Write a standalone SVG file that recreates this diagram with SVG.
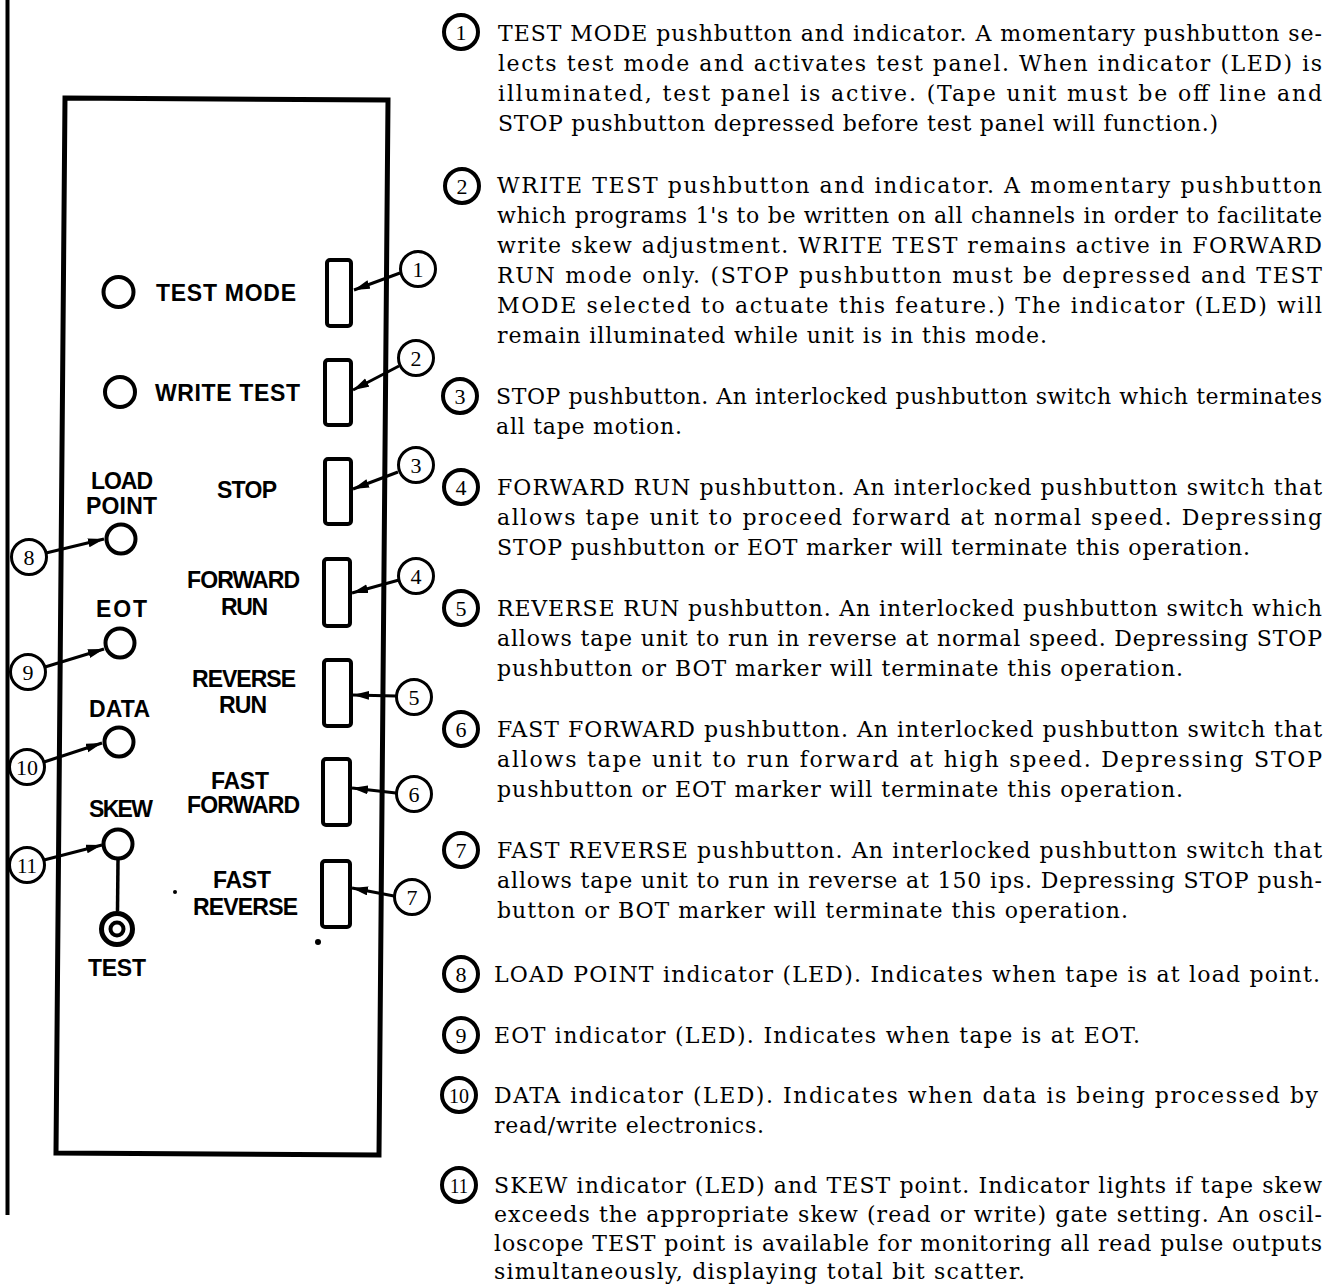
<svg xmlns="http://www.w3.org/2000/svg" width="1330" height="1287" viewBox="0 0 1330 1287">
<style>
.ln{stroke:#000;stroke-width:4;fill:none}
.led{fill:#fff;stroke:#000;stroke-width:4}
.btn{fill:#fff;stroke:#000;stroke-width:4}
.co{fill:#fff;stroke:#000;stroke-width:3}
.con{fill:#fff;stroke:#000;stroke-width:4}
.lbl{font-family:"Liberation Sans",Arial,sans-serif;font-weight:bold;font-size:23px;fill:#000}
.num{font-family:"Liberation Serif","Times New Roman",serif;font-size:22px;fill:#000;text-anchor:middle}
.tnum{font-family:"Liberation Serif","Times New Roman",serif;font-size:22px;fill:#000;text-anchor:middle}
.body{font-family:"DejaVu Serif","Liberation Serif",serif;font-size:22px;fill:#000}
.arr{stroke:#000;stroke-width:3;fill:none;marker-end:url(#ah)}
</style>
<defs>
<marker id="ah" markerUnits="userSpaceOnUse" markerWidth="18" markerHeight="10" refX="16" refY="4.5" orient="auto">
<path d="M0,0 L16,4.5 L0,9 z" fill="#000"/>
</marker>
</defs>
<rect width="1330" height="1287" fill="#fff"/>
<line x1="7.5" y1="0" x2="7.5" y2="1215" class="ln"/>
<g id="panel">
<polygon points="65,98 388,100 379,1155 56,1153" fill="none" stroke="#000" stroke-width="5"/>
<circle cx="175" cy="892" r="2" fill="#000"/>
<circle cx="318" cy="942" r="3" fill="#000"/>
</g>
<g id="test-mode">
<circle cx="118.5" cy="292" r="15" class="led"/>
<text x="156" y="301" class="lbl" textLength="140" lengthAdjust="spacing">TEST MODE</text>
<rect x="327" y="260" width="24" height="66" rx="3" class="btn"/>
</g>
<g id="write-test">
<circle cx="120" cy="392" r="15" class="led"/>
<text x="155" y="401" class="lbl" textLength="145" lengthAdjust="spacing">WRITE TEST</text>
<rect x="325" y="360" width="26" height="65" rx="3" class="btn"/>
</g>
<g id="stop">
<text x="217" y="498" class="lbl" textLength="60" lengthAdjust="spacing">STOP</text>
<rect x="325" y="459" width="26" height="65" rx="3" class="btn"/>
</g>
<g id="forward-run">
<text x="187" y="588" class="lbl" textLength="113" lengthAdjust="spacing">FORWARD</text>
<text x="221" y="615" class="lbl" textLength="47" lengthAdjust="spacing">RUN</text>
<rect x="324" y="559" width="26" height="67" rx="3" class="btn"/>
</g>
<g id="reverse-run">
<text x="192" y="687" class="lbl" textLength="104" lengthAdjust="spacing">REVERSE</text>
<text x="219" y="713" class="lbl" textLength="48" lengthAdjust="spacing">RUN</text>
<rect x="324" y="660" width="27" height="66" rx="3" class="btn"/>
</g>
<g id="fast-forward">
<text x="211" y="789" class="lbl" textLength="58" lengthAdjust="spacing">FAST</text>
<text x="187" y="813" class="lbl" textLength="113" lengthAdjust="spacing">FORWARD</text>
<rect x="323" y="759" width="27" height="66" rx="3" class="btn"/>
</g>
<g id="fast-reverse">
<text x="213" y="888" class="lbl" textLength="58" lengthAdjust="spacing">FAST</text>
<text x="193" y="915" class="lbl" textLength="105" lengthAdjust="spacing">REVERSE</text>
<rect x="322" y="861" width="28" height="66" rx="3" class="btn"/>
</g>
<g id="load-point">
<text x="91" y="489" class="lbl" textLength="62" lengthAdjust="spacing">LOAD</text>
<text x="86" y="514" class="lbl" textLength="71" lengthAdjust="spacing">POINT</text>
<circle cx="121" cy="539" r="14.5" class="led"/>
</g>
<g id="eot">
<text x="96" y="617" class="lbl" textLength="51" lengthAdjust="spacing">EOT</text>
<circle cx="120" cy="643" r="14.5" class="led"/>
</g>
<g id="data">
<text x="89" y="717" class="lbl" textLength="61" lengthAdjust="spacing">DATA</text>
<circle cx="119" cy="742" r="14.5" class="led"/>
</g>
<g id="skew">
<text x="89" y="817" class="lbl" textLength="64" lengthAdjust="spacing">SKEW</text>
<circle cx="118" cy="844" r="14.5" class="led"/>
<line x1="118" y1="860" x2="117.5" y2="911" stroke="#000" stroke-width="3.5"/>
</g>
<g id="test-point">
<circle cx="117" cy="929" r="15.5" fill="#fff" stroke="#000" stroke-width="5"/>
<circle cx="117" cy="929" r="6.5" fill="#fff" stroke="#000" stroke-width="4"/>
<text x="88" y="976" class="lbl" textLength="58" lengthAdjust="spacing">TEST</text>
</g>
<g id="connectors">
<line x1="400" y1="273" x2="354" y2="290" class="arr"/>
<line x1="399" y1="366" x2="353" y2="390" class="arr"/>
<line x1="398" y1="472" x2="353" y2="489" class="arr"/>
<line x1="399" y1="580" x2="352" y2="593" class="arr"/>
<line x1="396" y1="696" x2="353" y2="695" class="arr"/>
<line x1="396" y1="793" x2="352" y2="788" class="arr"/>
<line x1="394" y1="896" x2="352" y2="888" class="arr"/>
<line x1="46" y1="553" x2="104" y2="539" class="arr"/>
<line x1="45" y1="667" x2="104" y2="649" class="arr"/>
<line x1="44" y1="762" x2="102" y2="743" class="arr"/>
<line x1="44" y1="860" x2="102" y2="845" class="arr"/>
</g>
<g id="callout-1"><circle cx="418" cy="269" r="17.5" class="co"/><text x="418" y="277" class="num">1</text></g>
<g id="callout-2"><circle cx="416" cy="358" r="17.5" class="co"/><text x="416" y="366" class="num">2</text></g>
<g id="callout-3"><circle cx="416" cy="465" r="17.5" class="co"/><text x="416" y="473" class="num">3</text></g>
<g id="callout-4"><circle cx="416" cy="576" r="17.5" class="co"/><text x="416" y="584" class="num">4</text></g>
<g id="callout-5"><circle cx="414" cy="697" r="17.5" class="co"/><text x="414" y="705" class="num">5</text></g>
<g id="callout-6"><circle cx="414" cy="794" r="17.5" class="co"/><text x="414" y="802" class="num">6</text></g>
<g id="callout-7"><circle cx="412" cy="897" r="17.5" class="co"/><text x="412" y="905" class="num">7</text></g>
<g id="callout-8"><circle cx="29" cy="557" r="17.5" class="co"/><text x="29" y="565" class="num">8</text></g>
<g id="callout-9"><circle cx="28" cy="672" r="17.5" class="co"/><text x="28" y="680" class="num">9</text></g>
<g id="callout-10"><circle cx="27" cy="767" r="17.5" class="co"/><text x="27" y="775" class="num" textLength="22" lengthAdjust="spacingAndGlyphs">10</text></g>
<g id="callout-11"><circle cx="27" cy="865" r="17.5" class="co"/><text x="27" y="873" class="num" textLength="20" lengthAdjust="spacingAndGlyphs">11</text></g>
<g id="desc-1">
<circle cx="461" cy="32" r="17" class="con"/><text x="461" y="40" class="tnum">1</text>
<text x="498" y="41" class="body" textLength="824" lengthAdjust="spacing">TEST MODE pushbutton and indicator.  A momentary pushbutton se-</text>
<text x="498" y="71" class="body" textLength="824" lengthAdjust="spacing">lects test mode and activates test panel.  When indicator (LED) is</text>
<text x="498" y="101" class="body" textLength="824" lengthAdjust="spacing">illuminated, test panel is active.  (Tape unit must be off line and</text>
<text x="498" y="131" class="body" textLength="720" lengthAdjust="spacing">STOP pushbutton depressed before test panel will function.)</text>
</g>
<g id="desc-2">
<circle cx="462" cy="186" r="17" class="con"/><text x="462" y="194" class="tnum">2</text>
<text x="497" y="193" class="body" textLength="825" lengthAdjust="spacing">WRITE TEST pushbutton and indicator.  A momentary pushbutton</text>
<text x="497" y="223" class="body" textLength="825" lengthAdjust="spacing">which programs 1's to be written on all channels in order to facilitate</text>
<text x="497" y="253" class="body" textLength="825" lengthAdjust="spacing">write skew adjustment.  WRITE TEST remains active in FORWARD</text>
<text x="497" y="283" class="body" textLength="825" lengthAdjust="spacing">RUN mode only.  (STOP pushbutton must be depressed and TEST</text>
<text x="497" y="313" class="body" textLength="825" lengthAdjust="spacing">MODE selected to actuate this feature.)  The indicator (LED) will</text>
<text x="497" y="343" class="body" textLength="550" lengthAdjust="spacing">remain illuminated while unit is in this mode.</text>
</g>
<g id="desc-3">
<circle cx="460" cy="396" r="17" class="con"/><text x="460" y="404" class="tnum">3</text>
<text x="496" y="404" class="body" textLength="826" lengthAdjust="spacing">STOP pushbutton.  An interlocked pushbutton switch which terminates</text>
<text x="496" y="434" class="body" textLength="186" lengthAdjust="spacing">all tape motion.</text>
</g>
<g id="desc-4">
<circle cx="461" cy="487" r="17" class="con"/><text x="461" y="495" class="tnum">4</text>
<text x="497" y="495" class="body" textLength="825" lengthAdjust="spacing">FORWARD RUN pushbutton.  An interlocked pushbutton switch that</text>
<text x="497" y="525" class="body" textLength="825" lengthAdjust="spacing">allows tape unit to proceed forward at normal speed.  Depressing</text>
<text x="497" y="555" class="body" textLength="753" lengthAdjust="spacing">STOP pushbutton or EOT marker will terminate this operation.</text>
</g>
<g id="desc-5">
<circle cx="461" cy="608" r="17" class="con"/><text x="461" y="616" class="tnum">5</text>
<text x="497" y="616" class="body" textLength="825" lengthAdjust="spacing">REVERSE RUN pushbutton.  An interlocked pushbutton switch which</text>
<text x="497" y="646" class="body" textLength="825" lengthAdjust="spacing">allows tape unit to run in reverse at normal speed.  Depressing STOP</text>
<text x="497" y="676" class="body" textLength="686" lengthAdjust="spacing">pushbutton or BOT marker will terminate this operation.</text>
</g>
<g id="desc-6">
<circle cx="461" cy="729" r="17" class="con"/><text x="461" y="737" class="tnum">6</text>
<text x="497" y="737" class="body" textLength="825" lengthAdjust="spacing">FAST FORWARD pushbutton.  An interlocked pushbutton switch that</text>
<text x="497" y="767" class="body" textLength="825" lengthAdjust="spacing">allows tape unit to run forward at high speed.  Depressing STOP</text>
<text x="497" y="797" class="body" textLength="686" lengthAdjust="spacing">pushbutton or EOT marker will terminate this operation.</text>
</g>
<g id="desc-7">
<circle cx="461" cy="850" r="17" class="con"/><text x="461" y="858" class="tnum">7</text>
<text x="497" y="858" class="body" textLength="825" lengthAdjust="spacing">FAST REVERSE pushbutton.  An interlocked pushbutton switch that</text>
<text x="497" y="888" class="body" textLength="825" lengthAdjust="spacing">allows tape unit to run in reverse at 150 ips.  Depressing STOP push-</text>
<text x="497" y="918" class="body" textLength="631" lengthAdjust="spacing">button or BOT marker will terminate this operation.</text>
</g>
<g id="desc-8">
<circle cx="461" cy="974" r="17" class="con"/><text x="461" y="982" class="tnum">8</text>
<text x="494" y="982" class="body" textLength="826" lengthAdjust="spacing">LOAD POINT indicator (LED).  Indicates when tape is at load point.</text>
</g>
<g id="desc-9">
<circle cx="461" cy="1035" r="17" class="con"/><text x="461" y="1043" class="tnum">9</text>
<text x="494" y="1043" class="body" textLength="646" lengthAdjust="spacing">EOT indicator (LED).  Indicates when tape is at EOT.</text>
</g>
<g id="desc-10">
<circle cx="459" cy="1095" r="17" class="con"/><text x="459" y="1103" class="tnum" textLength="20" lengthAdjust="spacingAndGlyphs">10</text>
<text x="494" y="1103" class="body" textLength="824" lengthAdjust="spacing">DATA indicator (LED).  Indicates when data is being processed by</text>
<text x="494" y="1133" class="body" textLength="270" lengthAdjust="spacing">read/write electronics.</text>
</g>
<g id="desc-11">
<circle cx="459" cy="1185" r="17" class="con"/><text x="459" y="1193" class="tnum" textLength="18" lengthAdjust="spacingAndGlyphs">11</text>
<text x="494" y="1193" class="body" textLength="828" lengthAdjust="spacing">SKEW indicator (LED) and TEST point.  Indicator lights if tape skew</text>
<text x="494" y="1222" class="body" textLength="828" lengthAdjust="spacing">exceeds the appropriate skew (read or write) gate setting.  An oscil-</text>
<text x="494" y="1251" class="body" textLength="828" lengthAdjust="spacing">loscope TEST point is available for monitoring all read pulse outputs</text>
<text x="494" y="1279" class="body" textLength="531" lengthAdjust="spacing">simultaneously, displaying total bit scatter.</text>
</g>
</svg>
